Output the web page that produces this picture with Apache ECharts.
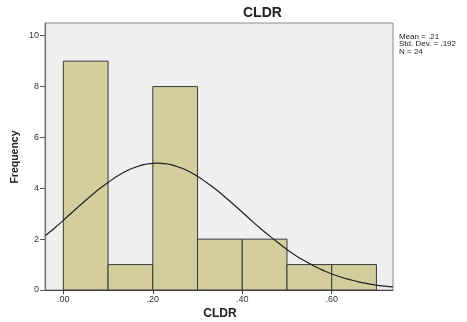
<!DOCTYPE html>
<html>
<head>
<meta charset="utf-8">
<script src="https://cdn.jsdelivr.net/npm/echarts@6/dist/echarts.min.js"></script>
<style>
html,body{margin:0;padding:0;background:#fff;}
#c{width:467px;height:322px;}
</style>
</head>
<body>
<div id="c"></div>
<script>
// Histogram bins (CLDR) and frequencies
const binStarts = [0.0, 0.1, 0.2, 0.3, 0.4, 0.5, 0.6];
const binEnds   = [0.1, 0.2, 0.3, 0.4, 0.5, 0.6, 0.7];
const counts    = [9, 1, 8, 2, 2, 1, 1];

// Normal curve
const curveX = [-0.04,-0.02,0.00,0.02,0.04,0.06,0.08,0.10,0.12,0.14,0.16,0.18,0.20,0.21,0.22,0.24,0.26,0.28,0.30,0.32,0.34,0.36,0.38,0.40,0.42,0.44,0.46,0.48,0.50,0.52,0.54,0.56,0.58,0.60,0.62,0.64,0.66,0.68,0.70,0.72,0.737];
const curveY = [2.14,2.43,2.74,3.06,3.37,3.68,3.97,4.23,4.47,4.67,4.82,4.93,4.98,4.99,4.98,4.93,4.82,4.67,4.47,4.23,3.97,3.68,3.37,3.06,2.74,2.43,2.14,1.86,1.59,1.35,1.14,0.95,0.78,0.63,0.51,0.41,0.32,0.25,0.19,0.15,0.12];

const xTicks = [0, 0.2, 0.4, 0.6];
const yTicks = [0, 2, 4, 6, 8, 10];
const statsLines = ['Mean = .21', 'Std. Dev. = .192', 'N = 24'];
const titleText = 'CLDR';
const xName = 'CLDR';
const yName = 'Frequency';

const FONT = '"Liberation Sans", Arial, sans-serif';
const chart = echarts.init(document.getElementById('c'), null, {renderer: 'canvas'});

const fmtX = v => v.toFixed(2).replace(/^0/, '');

const option = {
  animation: false,
  backgroundColor: '#ffffff',
  grid: {
    left: 45, right: 74, top: 23, bottom: 32,
    show: true, backgroundColor: '#EFEFEF', borderColor: '#8a8a8a', borderWidth: 1
  },
  xAxis: {
    type: 'value', min: -0.041, max: 0.737,
    axisLine: {show: true, onZero: false, lineStyle: {color: '#444', width: 1}},
    axisTick: {show: true, length: 4, customValues: xTicks, lineStyle: {color: '#444'}},
    axisLabel: {customValues: xTicks, formatter: fmtX, fontFamily: FONT, fontSize: 9, color: '#333', margin: 5},
    splitLine: {show: false}
  },
  yAxis: {
    type: 'value', min: 0, max: 10.5,
    axisLine: {show: true, onZero: false, lineStyle: {color: '#777', width: 1.2}},
    axisTick: {show: true, length: 5, customValues: yTicks, lineStyle: {color: '#555'}},
    axisLabel: {customValues: yTicks, fontFamily: FONT, fontSize: 9, color: '#333', margin: 6},
    splitLine: {show: false}
  },
  series: [
    {
      type: 'custom',
      data: binStarts.map((s, i) => [s, binEnds[i], counts[i]]),
      encode: {x: [0, 1], y: 2},
      renderItem: function (params, api) {
        const p0 = api.coord([api.value(0), api.value(2)]);
        const p1 = api.coord([api.value(1), 0]);
        return {
          type: 'rect',
          shape: {x: p0[0], y: p0[1], width: p1[0] - p0[0], height: p1[1] - p0[1]},
          style: {fill: '#D3CE9C', stroke: '#3a3a3a', lineWidth: 1}
        };
      },
      z: 2
    },
    {
      type: 'line',
      data: curveX.map((x, i) => [x, curveY[i]]),
      smooth: true,
      symbol: 'none',
      lineStyle: {color: '#222', width: 1.2},
      z: 3
    }
  ],
  graphic: [
    {type: 'text', left: 243, top: 6, style: {text: titleText, font: 'bold 14px ' + FONT, fill: '#222'}},
    {type: 'text', x: 220, y: 314, style: {text: xName, font: 'bold 12px ' + FONT, fill: '#222', align: 'center', verticalAlign: 'middle'}},
    {type: 'text', x: 15, y: 157, rotation: Math.PI / 2, style: {text: yName, font: 'bold 10.5px ' + FONT, fill: '#222', align: 'center', verticalAlign: 'middle'}},
    {type: 'text', x: 399, y: 33, style: {text: statsLines.join('\n'), font: '8px ' + FONT, lineHeight: 7.5, fill: '#222'}}
  ]
};
chart.setOption(option);
</script>
</body>
</html>
